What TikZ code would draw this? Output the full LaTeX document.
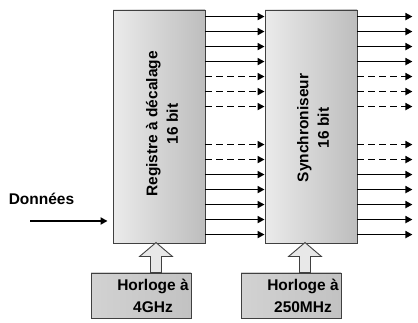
\documentclass[tikz,border=0pt]{standalone}
\usepackage{fontspec}
\setmainfont{Liberation Sans}
\usetikzlibrary{arrows.meta}
\definecolor{edgegray}{HTML}{404040}
\definecolor{boxl}{HTML}{EBEBEB}
\definecolor{boxr}{HTML}{BDBDBD}
\definecolor{clkl}{HTML}{D2D2D2}
\definecolor{clkr}{HTML}{C2C2C2}
\definecolor{arrfill}{HTML}{E8E8E8}
\begin{document}
\begin{tikzpicture}[x=1pt,y=-1pt,
  mainbox/.style={draw=edgegray, line width=0.9pt, left color=boxl, right color=boxr, shading angle=90,
    minimum width=92pt, minimum height=233pt, inner sep=0pt},
  boxtext/.style={align=center, inner sep=0pt, rotate=90,
    font=\fontsize{15.5}{20.5}\selectfont\bfseries},
  clkbox/.style={draw=edgegray, line width=0.9pt, left color=clkl, right color=clkr,
    minimum width=100pt, minimum height=45pt, inner sep=0pt},
  clktext/.style={align=center, font=\fontsize{15.5}{21.5}\selectfont\bfseries, inner sep=0pt},
  sig/.style={line width=1.9pt, -{Triangle[length=7pt,width=7pt]}},
  sigd/.style={sig, dash pattern=on 6.5pt off 4.5pt},
  blockarrow/.style={draw=edgegray, line width=0.9pt, fill=arrfill, line join=miter}
]
\useasboundingbox (0,0) rectangle (418,323);

\node[mainbox] (reg) at (159,126.5) {};
\node[mainbox] (syn) at (311,126.5) {};
\node[boxtext] (regt) at (162,124) {Registre à décalage\\16 bit};
\node[boxtext] (synt) at (313,128) {Synchroniseur\\16 bit};

\node[clkbox] (clk1) at (141,295.5) {};
\node[clkbox] (clk2) at (291,295.5) {};
\node[clktext] (t1) at (153,296) {Horloge à\\4GHz};
\node[clktext] (t2) at (303,296) {Horloge à\\250MHz};

% block arrows
\draw[blockarrow] ([xshift=9.5pt]clk1.north) -- ++(0,-16) -- ++(-11,0) -- ++(16.5,-14) -- ++(16.5,14) -- ++(-11,0) -- ++(0,16) -- cycle;
\draw[blockarrow] ([xshift=8.5pt]clk2.north) -- ++(0,-16) -- ++(-11,0) -- ++(16.5,-14) -- ++(16.5,14) -- ++(-11,0) -- ++(0,16) -- cycle;

% inter-block signals
\foreach \d in {7,22,37,52,165,180,195,210,225} {
  \draw[sig] ([yshift=-\d pt]reg.north east) -- ([yshift=-\d pt]syn.north west);
  \draw[sig] ([yshift=-\d pt]syn.north east) -- ++(55,0);
}
\foreach \d in {67,82,97,135,150} {
  \draw[sigd] ([yshift=-\d pt]reg.north east) -- ([yshift=-\d pt]syn.north west);
  \draw[sigd] ([yshift=-\d pt]syn.north east) -- ++(55,0);
}

% data input
\node[font=\fontsize{15.5}{17}\selectfont\bfseries, inner sep=0pt] (don) at (41.5,199) {Données};
\coordinate (din) at (30,221);
\draw[sig, shorten >=5pt] (din) -- (din -| reg.west);
\end{tikzpicture}
\end{document}
